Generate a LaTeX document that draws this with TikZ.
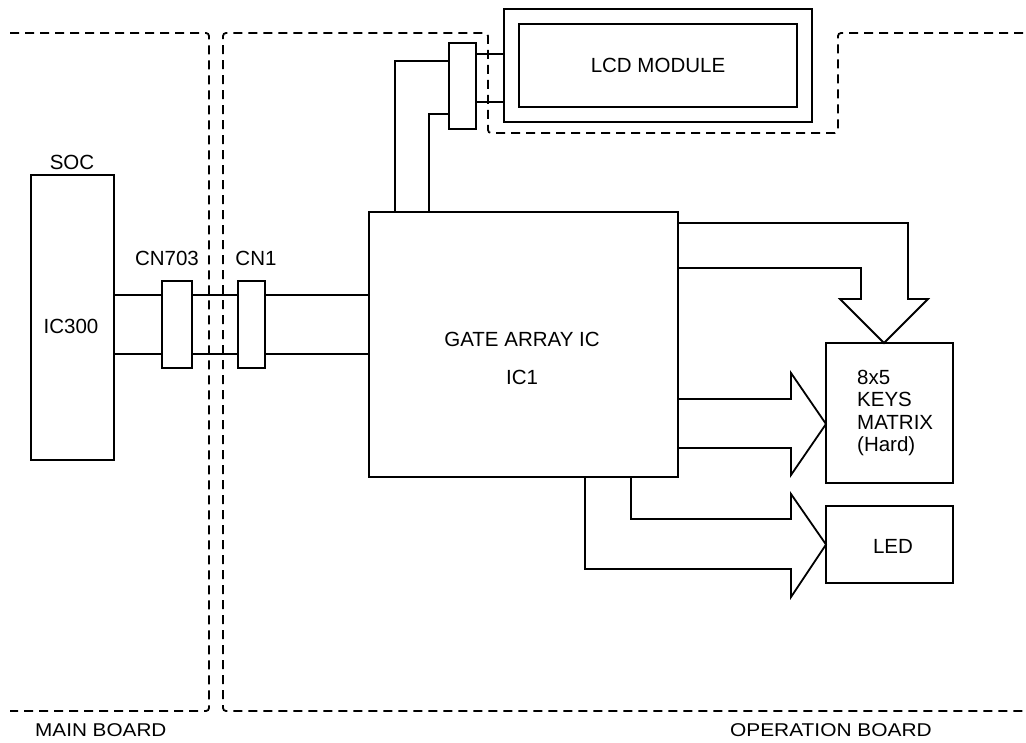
\documentclass[tikz,border=0pt]{standalone}
\usepackage{fontspec}
\setmainfont{Liberation Sans}
\begin{document}
\begin{tikzpicture}[x=1pt,y=-1pt,
  blk/.style={draw,line width=1.8pt,rectangle,inner sep=0pt,outer sep=0pt},
  wire/.style={line width=1.8pt},
  board/.style={line width=1.8pt,dash pattern=on 9pt off 6pt,rounded corners=3pt},
  lbl/.style={font=\fontsize{20.5}{24}\selectfont,inner sep=0pt},
  blbl/.style={font=\fontsize{18.5}{22}\selectfont,inner sep=0pt}]
\useasboundingbox (0,0) rectangle (1026,743);
% boards
\draw[board] (10,33) -- (209,33) -- (209,711) -- (10,711);
\draw[board] (1023,33) -- (838,33) -- (838,133) -- (488,133) -- (488,33) -- (223,33) -- (223,711) -- (1023,711);
\node[blbl,anchor=west] (mb) at (35,730) {\scalebox{1.12}[1]{MAIN BOARD}};
\node[blbl,anchor=east] (ob) at (932,730) {\scalebox{1.13}[1]{OPERATION BOARD}};
% blocks
\node[blk,minimum width=83pt,minimum height=285pt] (soc) at (72.5,317.5) {};
\node[lbl] (soct) at (72,162) {SOC};
\node[lbl] (ic300) at (71,326) {IC300};
\node[blk,minimum width=30pt,minimum height=87pt] (cn703) at (177,324.5) {};
\node[lbl] (cn703t) at (167,258) {CN703};
\node[blk,minimum width=27pt,minimum height=87pt] (cn1) at (251.5,324.5) {};
\node[lbl] (cn1t) at (256,258) {CN1};
\node[blk,minimum width=309pt,minimum height=265pt] (gate) at (523.5,344.5) {};
\node[lbl] (gatet) at (522,339) {GATE ARRAY IC};
\node[lbl] (ic1) at (522,377) {IC1};
\node[blk,minimum width=308pt,minimum height=113pt] (lcdout) at (658,65.5) {};
\node[blk,minimum width=278pt,minimum height=83pt] (lcdin) at (658,65.5) {};
\node[lbl] (lcdt) at (658,65) {LCD MODULE};
\node[blk,minimum width=27pt,minimum height=86pt] (lcdcn) at (462.5,86) {};
\node[blk,minimum width=127pt,minimum height=140pt] (keys) at (889.5,413) {};
\node[lbl,anchor=west,align=left,font=\fontsize{20.5}{22.3}\selectfont] (keyst) at (857,413) {8x5\\KEYS\\MATRIX\\(Hard)};
\node[blk,minimum width=127pt,minimum height=77pt] (led) at (889.5,544.5) {};
\node[lbl] (ledt) at (893,546) {LED};
% helper coordinates
\coordinate (ya) at (0,295);
\coordinate (yb) at (0,354);
\coordinate (l1) at (0,54);
\coordinate (l2) at (0,102);
\coordinate (g1) at (395,61);
\coordinate (g2) at (429,114);
% SOC to gate array
\foreach \y in {ya,yb}{
  \draw[wire] (soc.east |- \y) -- (cn703.west |- \y);
  \draw[wire] (cn703.east |- \y) -- (cn1.west |- \y);
  \draw[wire] (cn1.east |- \y) -- (gate.west |- \y);
}
% LCD connections
\draw[wire] (lcdcn.east |- l1) -- (lcdout.west |- l1);
\draw[wire] (lcdcn.east |- l2) -- (lcdout.west |- l2);
\draw[wire] (g1 |- gate.north) -- (g1) -- (lcdcn.west |- g1);
\draw[wire] (g2 |- gate.north) -- (g2) -- (lcdcn.west |- g2);
% fat arrow down to keys
\coordinate (kt) at (884,0);
\draw[wire,line join=miter] (gate.east |- 0,223) -- (908,223) -- (908,299) -- (928,299) -- (kt |- keys.north) -- (840,299) -- (861,299) -- (861,268) -- (gate.east |- 0,268);
% fat arrow right to keys
\coordinate (kw) at (0,424);
\draw[wire,line join=miter] (gate.east |- 0,399) -- (791,399) -- (791,373) -- (keys.west |- kw) -- (791,475) -- (791,448) -- (gate.east |- 0,448);
% fat arrow to LED
\coordinate (lx1) at (631,0);
\coordinate (lx2) at (585,0);
\draw[wire,line join=miter] (lx1 |- gate.south) -- (631,519) -- (791,519) -- (791,494) -- (led.west) -- (791,597) -- (791,569) -- (585,569) -- (lx2 |- gate.south);
\end{tikzpicture}
\end{document}
